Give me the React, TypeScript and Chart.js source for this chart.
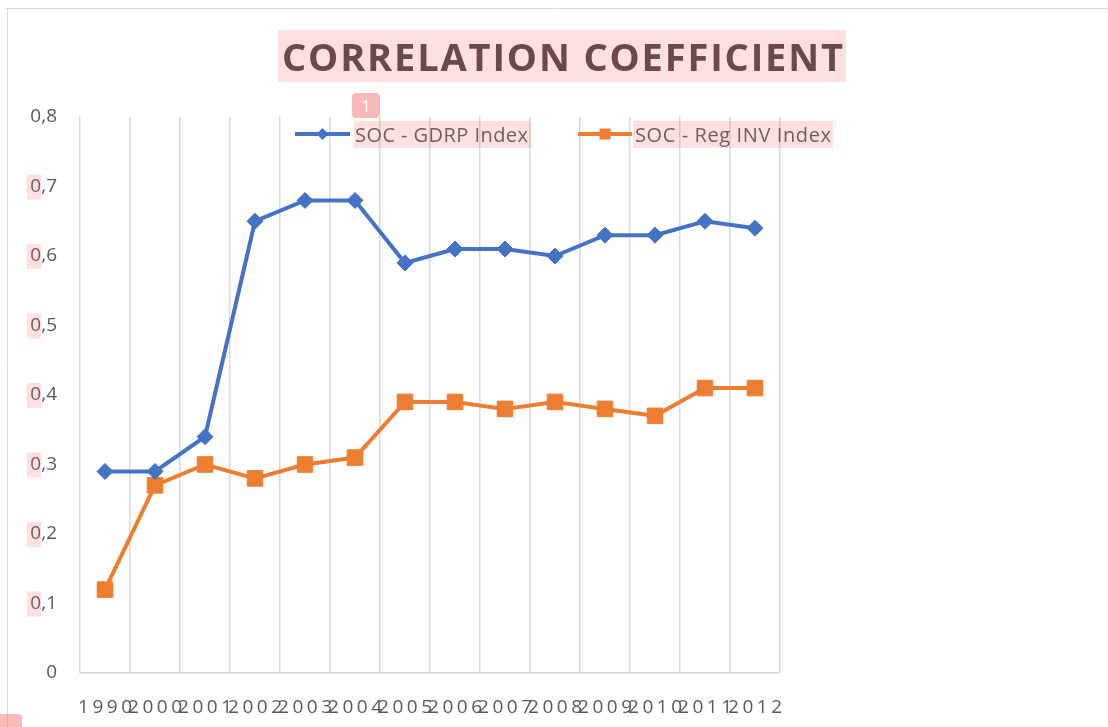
import React, { useEffect, useRef } from "react";
import { Chart, registerables } from "chart.js";

Chart.register(...registerables);

const titleText = "CORRELATION COEFFICIENT";
const categories = ["1990", "2000", "2001", "2002", "2003", "2004", "2005", "2006", "2007", "2008", "2009", "2010", "2011", "2012"];
const seriesNames = ["SOC - GDRP Index", "SOC - Reg INV Index"];
const gdrpValues = [0.29, 0.29, 0.34, 0.65, 0.68, 0.68, 0.59, 0.61, 0.61, 0.6, 0.63, 0.63, 0.65, 0.64];
const regInvValues = [0.12, 0.27, 0.3, 0.28, 0.3, 0.31, 0.39, 0.39, 0.38, 0.39, 0.38, 0.37, 0.41, 0.41];
const yMin = 0;
const yMax = 0.8;
const yStep = 0.1;

const BLUE = "#4472C4";
const ORANGE = "#ED7D31";
const GRID = "#d9d9d9";
const TEXT = "#595959";
const PINK = "rgba(250,100,100,0.2)";
const FONT = "'Open Sans', 'Liberation Sans', sans-serif";

function drawSpaced(ctx: CanvasRenderingContext2D, text: string, left: number, y: number, width: number) {
  const chars = text.split("");
  const widths = chars.map((c) => ctx.measureText(c).width);
  const total = widths.reduce((a, b) => a + b, 0);
  const gap = chars.length > 1 ? (width - total) / (chars.length - 1) : 0;
  let x = left;
  ctx.textAlign = "left";
  chars.forEach((c, i) => {
    ctx.fillText(c, x, y);
    x += widths[i] + gap;
  });
}

const decorPlugin = {
  id: "decor",
  beforeDraw(chart: any) {
    const { ctx, width, height } = chart;
    ctx.save();
    ctx.fillStyle = "#ffffff";
    ctx.fillRect(0, 0, width, height);
    ctx.strokeStyle = GRID;
    ctx.lineWidth = 1;
    ctx.beginPath();
    ctx.moveTo(5, 8.5);
    ctx.lineTo(width, 8.5);
    ctx.moveTo(7.5, 8.5);
    ctx.lineTo(7.5, height);
    ctx.stroke();
    ctx.restore();
  },
  afterDraw(chart: any) {
    const { ctx } = chart;
    const xScale = chart.scales.x;
    const yScale = chart.scales.y;
    ctx.save();

    // title
    ctx.fillStyle = "#4a4242";
    ctx.font = `bold 38px ${FONT}`;
    ctx.textBaseline = "alphabetic";
    drawSpaced(ctx, titleText, 282, 71, 561);

    // x labels
    ctx.fillStyle = TEXT;
    ctx.font = `19px ${FONT}`;
    categories.forEach((lab, i) => {
      const cx = xScale.getPixelForValue(i);
      drawSpaced(ctx, lab, cx - 27, 713, 54);
    });

    // legend
    const legendY = 134;
    const items = [
      { name: seriesNames[0], color: BLUE, x0: 295, x1: 350, tx: 355, tw: 173, style: "diamond" },
      { name: seriesNames[1], color: ORANGE, x0: 578, x1: 632, tx: 635, tw: 196, style: "square" },
    ];
    items.forEach((it) => {
      ctx.strokeStyle = it.color;
      ctx.fillStyle = it.color;
      ctx.lineWidth = 4;
      ctx.beginPath();
      ctx.moveTo(it.x0, legendY);
      ctx.lineTo(it.x1, legendY);
      ctx.stroke();
      const cx = (it.x0 + it.x1) / 2;
      ctx.beginPath();
      if (it.style === "diamond") {
        ctx.moveTo(cx, legendY - 6);
        ctx.lineTo(cx + 6, legendY);
        ctx.lineTo(cx, legendY + 6);
        ctx.lineTo(cx - 6, legendY);
        ctx.closePath();
      } else {
        ctx.rect(cx - 5.5, legendY - 5.5, 11, 11);
      }
      ctx.fill();
      ctx.fillStyle = TEXT;
      ctx.font = `20px ${FONT}`;
      drawSpaced(ctx, it.name, it.tx, 142, it.tw);
    });

    // annotation highlight overlays
    ctx.fillStyle = PINK;
    ctx.fillRect(278, 30, 568, 52);
    ctx.fillRect(354, 121, 177, 27);
    ctx.fillRect(633, 121, 200, 27);
    for (let v = yStep; v < yMax - 1e-9; v += yStep) {
      const py = yScale.getPixelForValue(v);
      ctx.fillRect(27, py - 12, 14, 25);
    }
    ctx.fillStyle = "rgba(245,130,130,0.55)";
    ctx.beginPath();
    ctx.roundRect(352, 93, 28, 25, 4);
    ctx.fill();
    ctx.beginPath();
    ctx.roundRect(-6, 714, 28, 20, 4);
    ctx.fill();
    ctx.fillStyle = "#ffffff";
    ctx.font = `16px ${FONT}`;
    ctx.textAlign = "center";
    ctx.fillText("1", 366, 112);
    ctx.restore();
  },
};

export default function App() {
  const ref = useRef<HTMLCanvasElement | null>(null);
  useEffect(() => {
    if (!ref.current) return;
    const chart = new Chart(ref.current, {
      type: "line",
      data: {
        labels: categories,
        datasets: [
          {
            label: seriesNames[0],
            data: gdrpValues,
            borderColor: BLUE,
            backgroundColor: BLUE,
            borderWidth: 4,
            pointStyle: "rectRot",
            pointRadius: 8,
            pointBorderWidth: 1,
            pointBackgroundColor: BLUE,
            pointBorderColor: BLUE,
            tension: 0,
          },
          {
            label: seriesNames[1],
            data: regInvValues,
            borderColor: ORANGE,
            backgroundColor: ORANGE,
            borderWidth: 4,
            pointStyle: "rect",
            pointRadius: 11,
            pointBorderWidth: 1,
            pointBackgroundColor: ORANGE,
            pointBorderColor: ORANGE,
            tension: 0,
          },
        ],
      },
      options: {
        responsive: false,
        animation: false,
        layout: { padding: { top: 117, right: 328, bottom: 54, left: 0 } },
        plugins: { legend: { display: false }, title: { display: false }, tooltip: { enabled: false } },
        scales: {
          x: {
            offset: true,
            grid: { display: true, offset: true, color: GRID, lineWidth: 1.5, drawTicks: false },
            border: { display: true, color: GRID, width: 1.5 },
            ticks: { display: false },
          },
          y: {
            min: yMin,
            max: yMax,
            afterFit(scale: any) {
              scale.width = 80;
            },
            grid: { display: false, drawTicks: false },
            border: { display: false },
            ticks: {
              stepSize: yStep,
              padding: 23,
              color: TEXT,
              font: { family: FONT, size: 19 },
              callback: (v: any) => (Number(v) === 0 ? "0" : Number(v).toFixed(1).replace(".", ",")),
            },
          },
        },
      },
      plugins: [decorPlugin],
    });
    return () => chart.destroy();
  }, []);
  return (
    <div style={{ position: "fixed", left: 0, top: 0, width: 1108, height: 727, background: "#fff" }}>
      <canvas ref={ref} width={1108} height={727} style={{ display: "block" }} />
    </div>
  );
}
